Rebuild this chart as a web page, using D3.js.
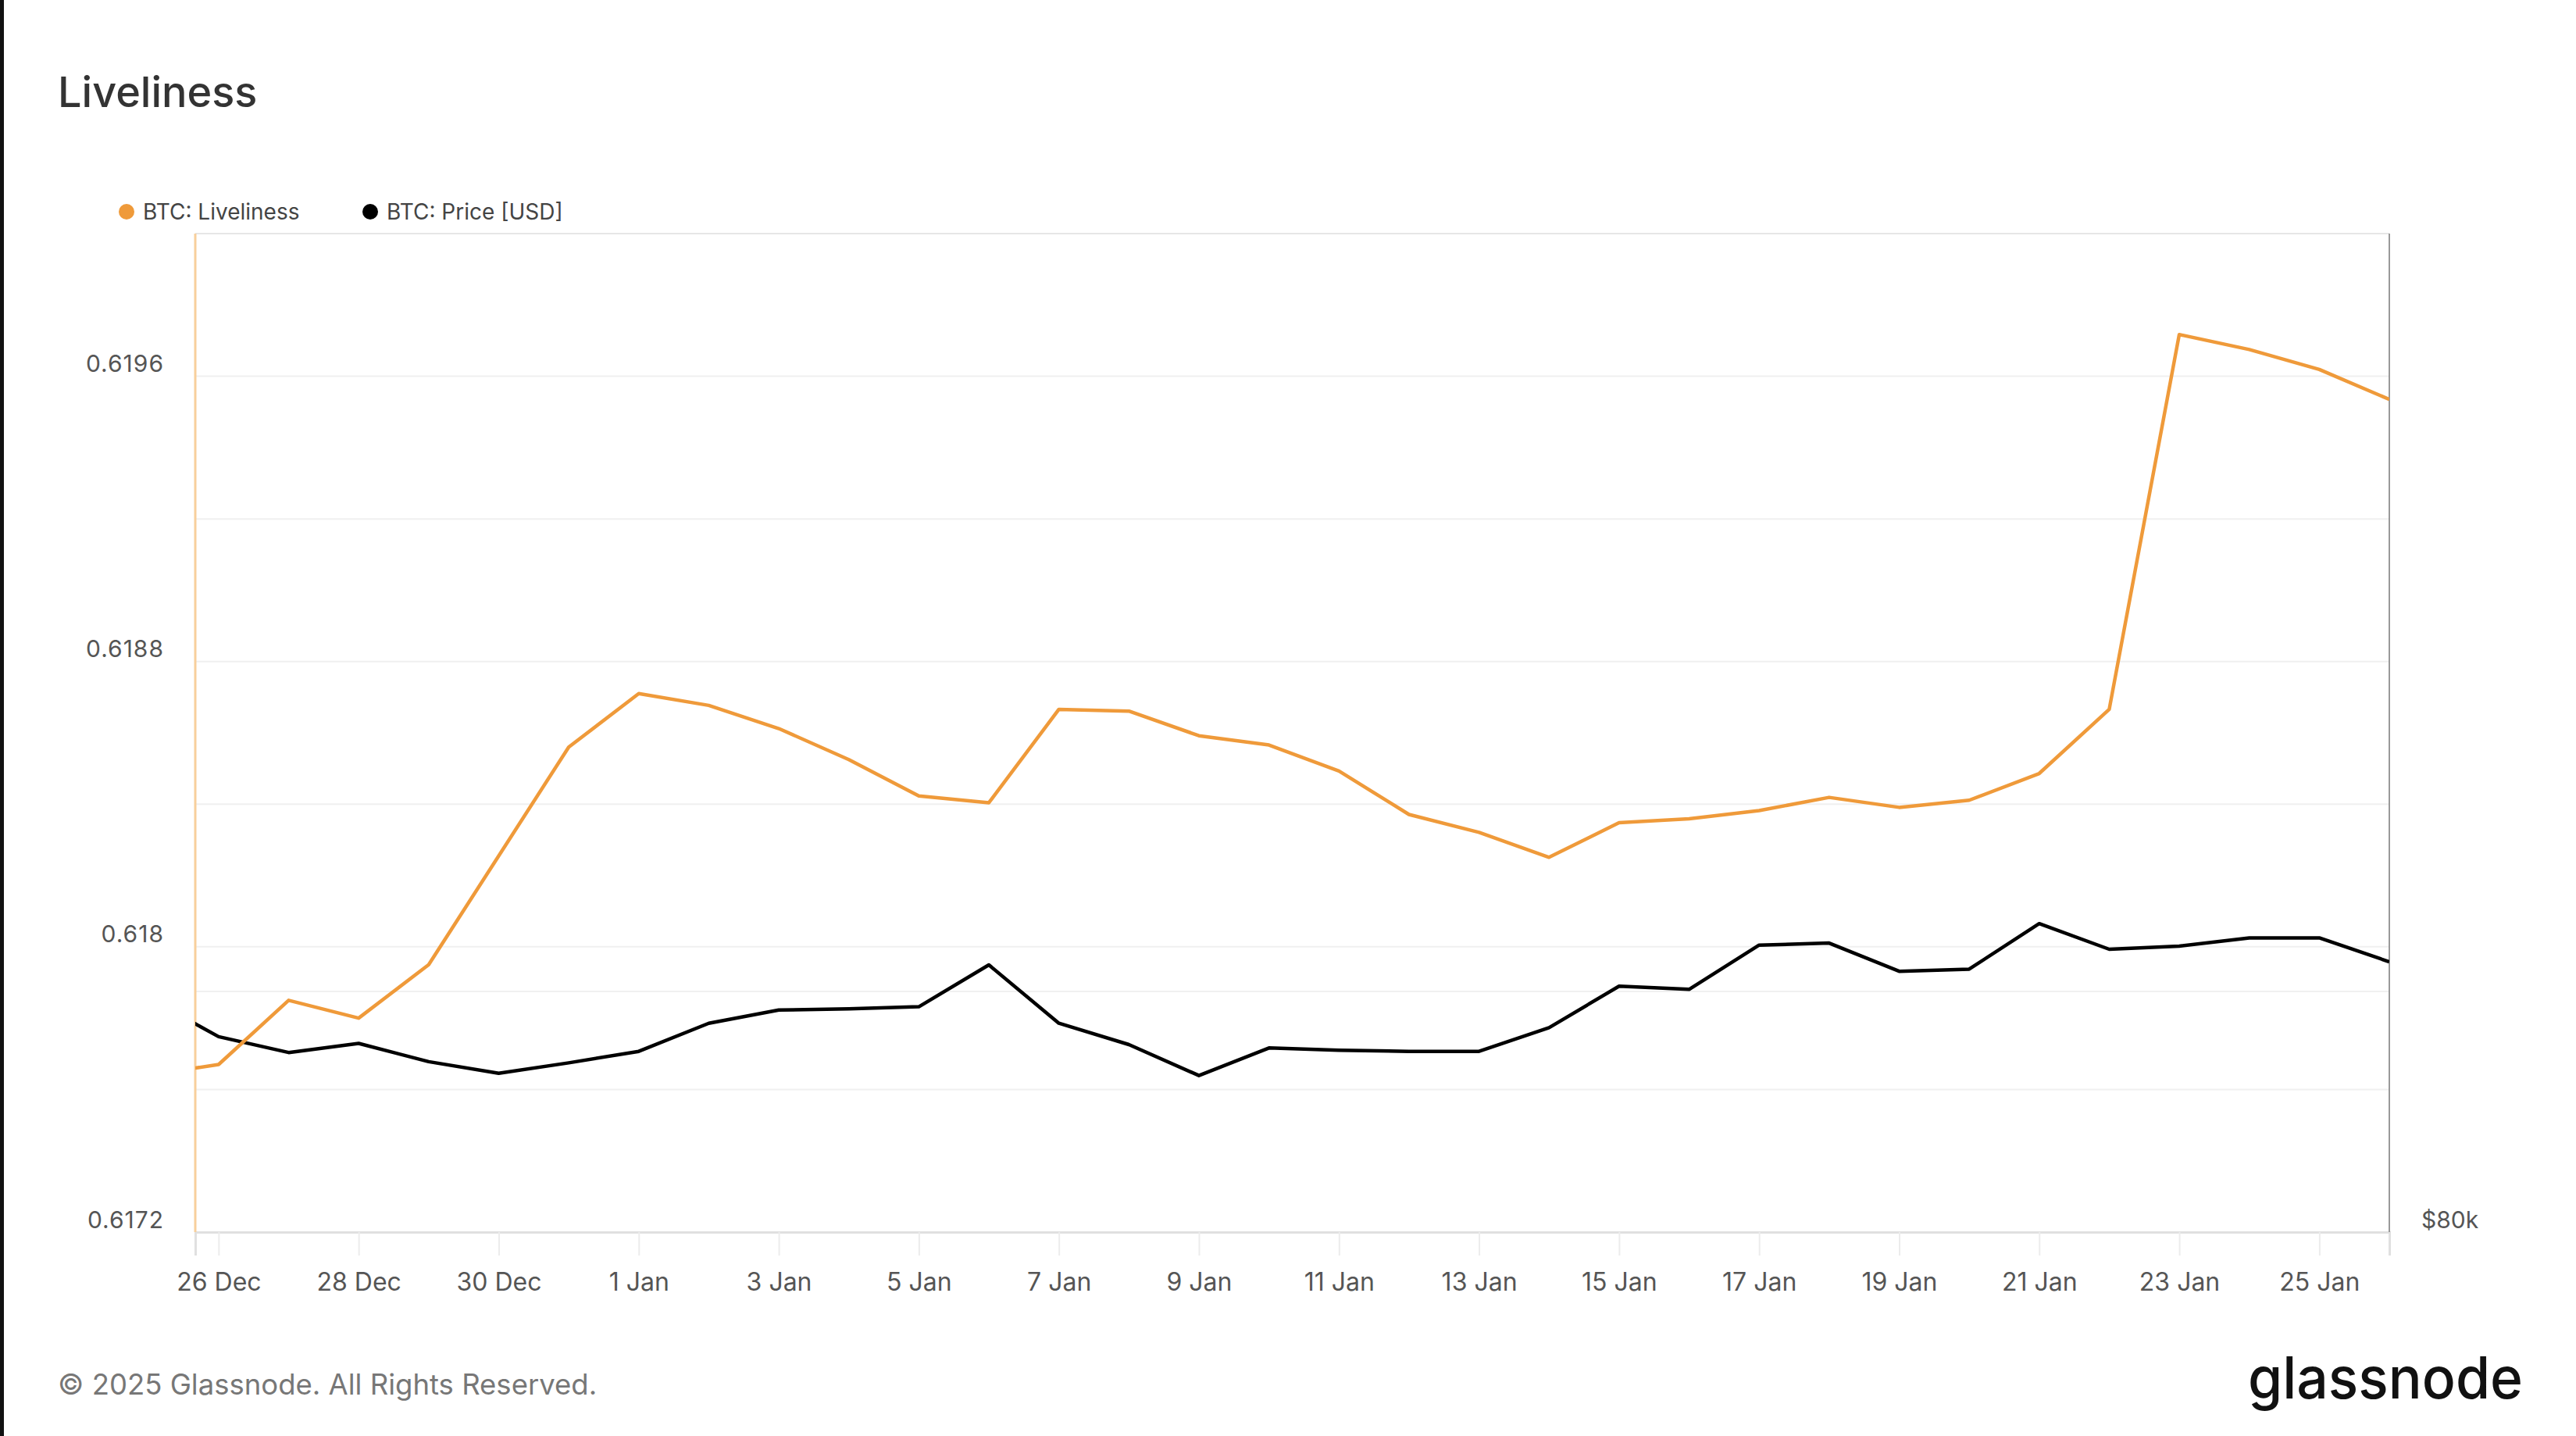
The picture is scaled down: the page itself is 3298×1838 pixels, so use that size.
<!DOCTYPE html>
<html>
<head>
<meta charset="utf-8">
<script src="https://cdn.jsdelivr.net/npm/d3@7"></script>
<style>
  html, body { margin: 0; padding: 0; background: #fff; }
  svg { display: block; }
  text { font-family: Inter, "Noto Sans", sans-serif; }
</style>
</head>
<body>
<script>
// ---------- DATA ----------
const dates = [
  "2024-12-25","2024-12-26","2024-12-27","2024-12-28","2024-12-29","2024-12-30","2024-12-31",
  "2025-01-01","2025-01-02","2025-01-03","2025-01-04","2025-01-05","2025-01-06","2025-01-07",
  "2025-01-08","2025-01-09","2025-01-10","2025-01-11","2025-01-12","2025-01-13","2025-01-14",
  "2025-01-15","2025-01-16","2025-01-17","2025-01-18","2025-01-19","2025-01-20","2025-01-21",
  "2025-01-22","2025-01-23","2025-01-24","2025-01-25","2025-01-26"
];
const liveliness = [
  0.61764, 0.61767, 0.61785, 0.61780, 0.61795, 0.618255, 0.61856,
  0.61871, 0.618677, 0.618612, 0.618525, 0.618423, 0.618404, 0.618666,
  0.618661, 0.618592, 0.618566, 0.618493, 0.618371, 0.618321, 0.618251,
  0.618348, 0.618359, 0.618382, 0.618419, 0.618391, 0.618411, 0.618486,
  0.618666, 0.619717, 0.619675, 0.619619, 0.619535
];
const price = [
  99400, 95900, 94500, 95300, 93700, 92700, 93600,
  94600, 97100, 98300, 98400, 98600, 102500, 97100,
  95200, 92500, 94900, 94700, 94600, 94600, 96700,
  100500, 100200, 104400, 104600, 101900, 102100, 106500,
  104000, 104300, 105100, 105100, 102800
];
const xTickDates = [
  "2024-12-26","2024-12-28","2024-12-30","2025-01-01","2025-01-03","2025-01-05","2025-01-07",
  "2025-01-09","2025-01-11","2025-01-13","2025-01-15","2025-01-17","2025-01-19","2025-01-21",
  "2025-01-23","2025-01-25"
];
const leftTicks = [0.6172, 0.618, 0.6188, 0.6196];
const leftGrid = [0.6172, 0.6176, 0.618, 0.6184, 0.6188, 0.6192, 0.6196];
const rightTicks = [80000];
const rightGrid = [100000];
const seriesNames = ["BTC: Liveliness", "BTC: Price [USD]"];
const seriesColors = ["#ef9a3a", "#000000"];

// ---------- LAYOUT ----------
const W = 3298, H = 1838;
const L = 250, R = 3059, T = 299, B = 1577;
const parse = d3.utcParse("%Y-%m-%d");
const fmt = d3.utcFormat("%-d %b");

const svg = d3.select("body").append("svg").attr("width", W).attr("height", H);
svg.append("rect").attr("width", W).attr("height", H).attr("fill", "#fff");
svg.append("rect").attr("x", 0).attr("y", 0).attr("width", 5).attr("height", H).attr("fill", "#111");

const x = d3.scaleUtc()
  .domain([new Date(Date.UTC(2024, 11, 25, 16)), new Date(Date.UTC(2025, 0, 26))])
  .range([L, R]);
const yL = d3.scaleLinear().domain([0.6172, 0.6200]).range([B, T]);
const yR = d3.scaleLog().domain([80000, 202000]).range([B, T]);

// Title
svg.append("text").attr("x", 74).attr("y", 137).attr("font-size", 54).attr("font-weight", 500)
  .attr("fill", "#333").text("Liveliness");

// Legend
const legX = [162, 474];
seriesNames.forEach((n, i) => {
  svg.append("circle").attr("cx", legX[i]).attr("cy", 271).attr("r", 10).attr("fill", seriesColors[i]);
  svg.append("text").attr("x", legX[i] + 21).attr("y", 281).attr("font-size", 28)
    .attr("fill", "#444").text(n);
});

// Gridlines
const g = svg.append("g");
g.selectAll(".gl").data(leftGrid).enter().append("line")
  .attr("x1", L).attr("x2", R).attr("y1", d => yL(d)).attr("y2", d => yL(d))
  .attr("stroke", "#f0f0f0").attr("stroke-width", 2);
g.selectAll(".gr").data(rightGrid).enter().append("line")
  .attr("x1", L).attr("x2", R).attr("y1", d => yR(d)).attr("y2", d => yR(d))
  .attr("stroke", "#f0f0f0").attr("stroke-width", 2);
// top border
g.append("line").attr("x1", L).attr("x2", R).attr("y1", T).attr("y2", T)
  .attr("stroke", "#e6e6e6").attr("stroke-width", 2);

// X axis
const xAxis = d3.axisBottom(x).tickValues(xTickDates.map(parse)).tickFormat(fmt)
  .tickSize(30).tickPadding(22);
const xa = svg.append("g").attr("transform", `translate(0,${B})`).call(xAxis);
xa.select(".domain").attr("stroke", "#e0e0e0").attr("stroke-width", 3);
xa.selectAll(".tick line").attr("stroke", "#ececec").attr("stroke-width", 2);
xa.selectAll(".tick text").attr("font-size", 32).attr("fill", "#555")
  .attr("font-family", "Inter, 'Noto Sans', sans-serif");

// Left axis
const yAxisL = d3.axisLeft(yL).tickValues(leftTicks).tickFormat(d3.format("")).tickSize(0).tickPadding(40);
const yla = svg.append("g").attr("transform", `translate(${L},0)`).call(yAxisL);
yla.select(".domain").remove();
yla.selectAll(".tick text").attr("font-size", 30).attr("fill", "#555").attr("letter-spacing", 1)
  .attr("dy", -6).attr("font-family", "Inter, 'Noto Sans', sans-serif");
svg.append("line").attr("x1", L).attr("x2", L).attr("y1", T).attr("y2", B)
  .attr("stroke", "#f8cf9c").attr("stroke-width", 3);

// Right axis
const yAxisR = d3.axisRight(yR).tickValues(rightTicks).tickFormat(d => "$" + d / 1000 + "k")
  .tickSize(0).tickPadding(41);
const yra = svg.append("g").attr("transform", `translate(${R},0)`).call(yAxisR);
yra.select(".domain").remove();
yra.selectAll(".tick text").attr("font-size", 30).attr("fill", "#555").attr("dy", -6)
  .attr("font-family", "Inter, 'Noto Sans', sans-serif");
svg.append("line").attr("x1", R).attr("x2", R).attr("y1", T).attr("y2", B)
  .attr("stroke", "#999").attr("stroke-width", 2);

// Lines
svg.append("clipPath").attr("id", "clip").append("rect")
  .attr("x", L).attr("y", T).attr("width", R - L).attr("height", B - T);
const pts = dates.map((d, i) => ({ t: parse(d), lv: liveliness[i], p: price[i] }));
const lineL = d3.line().x(d => x(d.t)).y(d => yL(d.lv));
const lineP = d3.line().x(d => x(d.t)).y(d => yR(d.p));
const lg = svg.append("g").attr("clip-path", "url(#clip)");
lg.append("path").datum(pts).attr("d", lineP).attr("fill", "none")
  .attr("stroke", seriesColors[1]).attr("stroke-width", 4.5).attr("stroke-linejoin", "round");
lg.append("path").datum(pts).attr("d", lineL).attr("fill", "none")
  .attr("stroke", seriesColors[0]).attr("stroke-width", 4.5).attr("stroke-linejoin", "round");

// Footer
svg.append("text").attr("x", 74).attr("y", 1785).attr("font-size", 36.5).attr("fill", "#777")
  .text("© 2025 Glassnode. All Rights Reserved.");
svg.append("text").attr("x", 2878).attr("y", 1790).attr("font-size", 74).attr("font-weight", 500)
  .attr("fill", "#111").attr("textLength", 352).attr("lengthAdjust", "spacingAndGlyphs")
  .text("glassnode");
</script>
</body>
</html>
